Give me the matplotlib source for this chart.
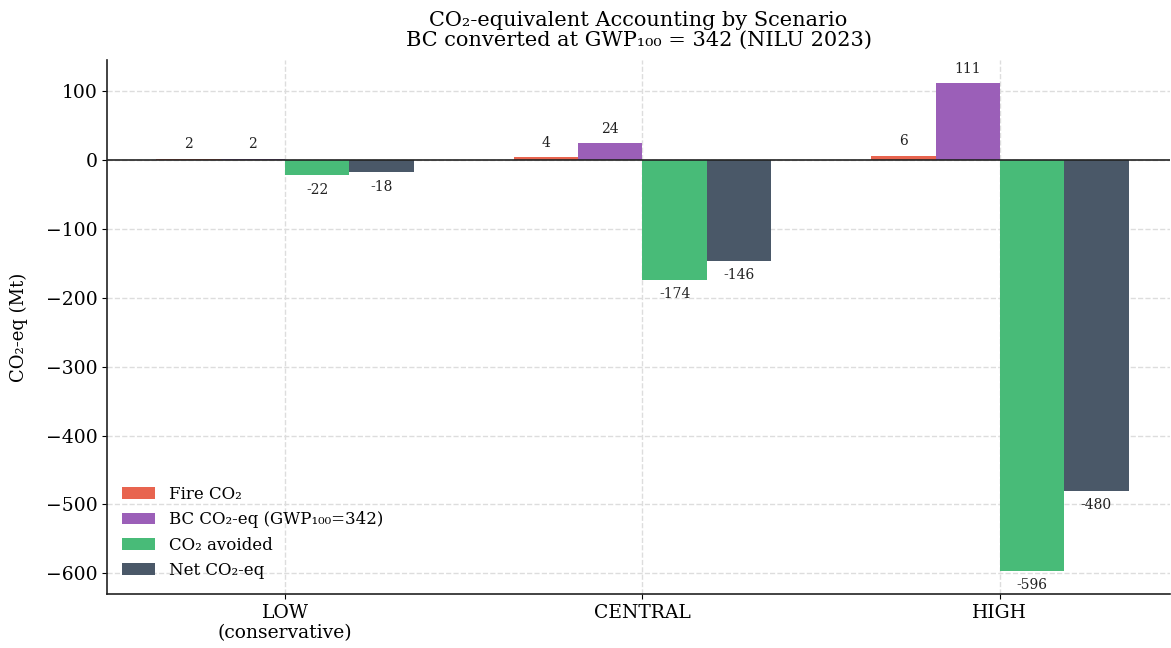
import matplotlib
matplotlib.use("Agg")
import matplotlib.pyplot as plt
import numpy as np

# Scenario results (Mt CO2-eq)
scenarios = ["LOW\n(conservative)", "CENTRAL", "HIGH"]
fire_co2 = [2, 4, 6]
bc_co2eq = [2, 24, 111]
co2_avoided = [-22, -174, -596]
net_co2eq = [-18, -146, -480]

series_names = ["Fire CO\u2082", "BC CO\u2082-eq (GWP\u2081\u2080\u2080=342)",
                "CO\u2082 avoided", "Net CO\u2082-eq"]
series_colors = ["#e8644f", "#9b5fb8", "#48bb78", "#4a5868"]

plt.rcParams["font.family"] = ["DejaVu Serif"]

fig = plt.figure(figsize=(11.71, 6.48), dpi=100)
ax = fig.add_axes([107 / 1171, 1 - 594 / 648, (1170 - 107) / 1171, (594 - 60) / 648])

x = np.arange(len(scenarios))
width = 0.18
all_series = [fire_co2, bc_co2eq, co2_avoided, net_co2eq]

for i, (vals, name, color) in enumerate(zip(all_series, series_names, series_colors)):
    offset = (i - 1.5) * width
    bars = ax.bar(x + offset, vals, width, label=name, color=color, zorder=3)
    for b, v in zip(bars, vals):
        if v >= 0:
            ax.annotate(f"{v:.0f}", (b.get_x() + b.get_width() / 2, v),
                        xytext=(0, 5.5), textcoords="offset points",
                        ha="center", va="bottom", fontsize=10, color="#222222")
        else:
            ax.annotate(f"{v:.0f}", (b.get_x() + b.get_width() / 2, v),
                        xytext=(0, -5.5), textcoords="offset points",
                        ha="center", va="top", fontsize=10, color="#222222")

ax.axhline(0, color="#222222", linewidth=1.2, zorder=4)

ax.set_xticks(x)
ax.set_xticklabels(scenarios, fontsize=13.5)
ax.tick_params(axis="y", labelsize=13.5)
ax.set_xlim(-0.498, 2.476)
ax.set_ylim(-630, 145)
ax.set_yticks([100, 0, -100, -200, -300, -400, -500, -600])

ax.set_ylabel("CO\u2082-eq (Mt)", fontsize=13)
ax.yaxis.set_label_coords(-0.074, 0.5)
ax.set_title("CO\u2082-equivalent Accounting by Scenario\nBC converted at GWP\u2081\u2080\u2080 = 342 (NILU 2023)",
             fontsize=15, linespacing=1.05, pad=10)

ax.grid(True, linestyle="--", color="#dddddd", linewidth=1.0, zorder=0)
ax.set_axisbelow(True)
ax.spines["top"].set_visible(False)
ax.spines["right"].set_visible(False)
for s in ("left", "bottom"):
    ax.spines[s].set_linewidth(1.2)
    ax.spines[s].set_color("#222222")

ax.legend(loc="lower left", frameon=False, fontsize=12)

fig.savefig("out.png", dpi=100)
